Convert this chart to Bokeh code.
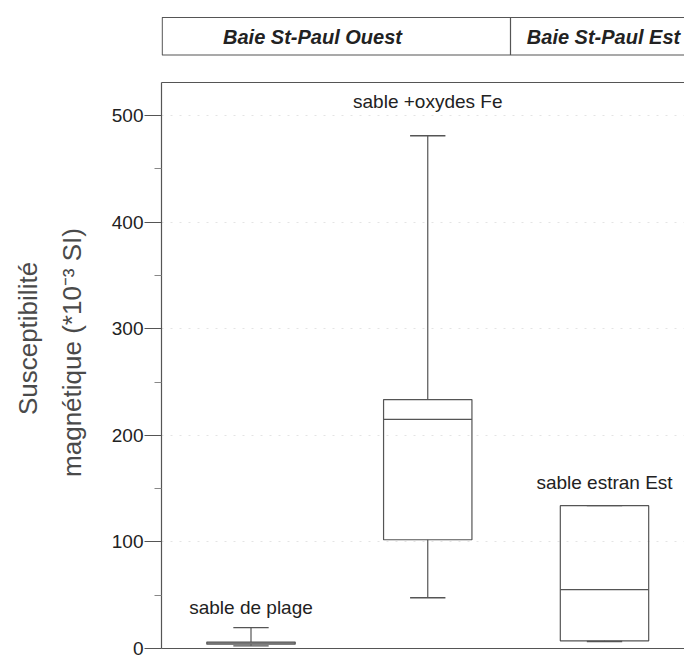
import math
from bokeh.plotting import figure
from bokeh.models import Range1d, LinearAxis, ColumnDataSource, FixedTicker
from bokeh.layouts import column, row
from bokeh.embed import file_html
from bokeh.resources import INLINE
from bokeh.core.properties import value

# ---------------- data ----------------
categories = ["sable de plage", "sable +oxydes Fe", "sable estran Est"]
whisker_low = [2.5, 47.6, 6.5]
q1 = [4.0, 102.0, 7.2]
median = [5.0, 215.0, 55.3]
q3 = [6.0, 233.5, 134.0]
whisker_high = [19.6, 481.0, 134.0]
y_ticks = [0, 100, 200, 300, 400, 500]
groups = ["Baie St-Paul Ouest", "Baie St-Paul Est"]
y_title = ["Susceptibilité", "magnétique (*10⁻³ SI)"]

# ---------------- layout / style ----------------
FONT = "Liberation Sans"
LINE = "#555555"
TEXT = "#222222"
PAGE_W, PAGE_H = 684, 658
TITLE_W = 100                     # width of the y-title strip
FRAME_L = 161                     # page x of the plot frame's left edge
HEAD_H = 64
UNIT = 176.75                     # px per category step
pos = [1, 2, 3]
BOX_W = 0.5
CAP_W = 0.2
X0 = 1 - (250.5 - FRAME_L) / UNIT
X1 = X0 + (PAGE_W - FRAME_L) / UNIT
FRAME_TOP, FRAME_BOT = 82, 648
PX_PER_Y = (FRAME_BOT - 115) / 500.0
Y0 = 0
Y1 = (FRAME_BOT - FRAME_TOP) / PX_PER_Y
label_dy = [-20, -34, -23]        # px offsets of the category labels
group_x = [1 + 61.5 / UNIT, 1 + 352.5 / UNIT]
group_sep = 1 + 259.5 / UNIT

# ---------------- y title strip ----------------
t = figure(width=TITLE_W, height=PAGE_H, x_range=Range1d(0, TITLE_W), y_range=Range1d(PAGE_H, 0),
           min_border=0, x_axis_location=None, y_axis_location=None,
           output_backend="svg", toolbar_location=None)
t.grid.visible = False
t.outline_line_color = None
t.background_fill_color = None
t.border_fill_color = None
t.text(x=[27, 71], y=[338, 352], text=y_title, angle=math.pi / 2,
       text_align="center", text_baseline="middle", text_font=value(FONT),
       text_font_size="26px", text_color="#4a4a4a")

# ---------------- header (frame aligned with the main plot's frame) ----------------
MAIN_W = PAGE_W - TITLE_W
h = figure(width=MAIN_W, height=HEAD_H, x_range=Range1d(X0, X1), y_range=Range1d(HEAD_H, 0),
           min_border_left=FRAME_L - TITLE_W, min_border_right=0, min_border_top=0, min_border_bottom=0,
           x_axis_location=None, y_axis_location=None,
           output_backend="svg", toolbar_location=None)
h.grid.visible = False
h.outline_line_color = None
h.background_fill_color = None
h.border_fill_color = None
h.quad(left=[X0 + 0.7 / UNIT], right=[X1 + 1], bottom=[54.5], top=[17],
       fill_color=None, line_color=LINE, line_width=1.2)
h.segment(x0=[group_sep], x1=[group_sep], y0=[54.5], y1=[17], line_color=LINE, line_width=1.2)
h.text(x=group_x, y=[36] * len(groups), text=groups, text_align="center", text_baseline="middle",
       text_font=value(FONT), text_font_style="bold italic", text_font_size="20px", text_color=TEXT)

# ---------------- main plot ----------------
p = figure(width=MAIN_W, height=PAGE_H - HEAD_H, x_range=Range1d(X0, X1), y_range=Range1d(Y0, Y1),
           min_border_left=FRAME_L - TITLE_W, min_border_right=0,
           min_border_top=FRAME_TOP - HEAD_H, min_border_bottom=PAGE_H - FRAME_BOT,
           output_backend="svg", toolbar_location=None)
p.outline_line_color = None
p.background_fill_color = None
p.border_fill_color = None
p.xgrid.visible = False
p.ygrid.grid_line_color = "#e4e4e4"
p.ygrid.grid_line_dash = "2 7"

yax = p.yaxis[0]
yax.ticker = FixedTicker(ticks=y_ticks, minor_ticks=[t_ + 50 for t_ in y_ticks[:-1]])
yax.axis_line_color = LINE
yax.axis_line_width = 1.2
yax.major_tick_line_color = LINE
yax.major_tick_out = 17
yax.major_tick_in = 0
yax.minor_tick_line_color = "#888888"
yax.minor_tick_out = 7
yax.minor_tick_in = 0
yax.major_label_standoff = 1
yax.major_label_text_font = FONT
yax.major_label_text_font_size = "19px"
yax.major_label_text_color = TEXT

xax = p.xaxis[0]
xax.ticker = FixedTicker(ticks=[])
xax.axis_line_color = LINE
xax.axis_line_width = 1.2
xax.major_tick_line_color = None
xax.minor_tick_line_color = None
xax.major_label_text_font_size = "0px"
xax.major_label_standoff = 0

top = LinearAxis(ticker=FixedTicker(ticks=[]), axis_line_color=LINE, axis_line_width=1.2,
                 major_tick_line_color=None, minor_tick_line_color=None,
                 major_label_text_font_size="0px", major_label_standoff=0)
p.add_layout(top, "above")

src = ColumnDataSource(dict(
    x=pos, lo=whisker_low, q1=q1, med=median, q3=q3, hi=whisker_high, name=categories,
    left=[x - BOX_W / 2 for x in pos], right=[x + BOX_W / 2 for x in pos],
    cl=[x - CAP_W / 2 for x in pos], cr=[x + CAP_W / 2 for x in pos], dy=label_dy,
))

p.segment(x0="x", x1="x", y0="q3", y1="hi", source=src, line_color=LINE, line_width=1.2)
p.segment(x0="x", x1="x", y0="q1", y1="lo", source=src, line_color=LINE, line_width=1.2)
p.segment(x0="cl", x1="cr", y0="hi", y1="hi", source=src, line_color=LINE, line_width=1.4)
p.segment(x0="cl", x1="cr", y0="lo", y1="lo", source=src, line_color=LINE, line_width=1.4)
p.quad(left="left", right="right", bottom="q1", top="q3", source=src,
       fill_color=None, line_color=LINE, line_width=1.2)
p.segment(x0="left", x1="right", y0="med", y1="med", source=src, line_color=LINE, line_width=1.2)
p.text(x="x", y="hi", text="name", y_offset="dy", source=src, text_align="center",
       text_baseline="alphabetic", text_font=value(FONT), text_font_size="19px", text_color=TEXT)

layout = row(t, column(h, p, spacing=0), spacing=0)
open("out.html", "w").write(file_html(layout, INLINE))
